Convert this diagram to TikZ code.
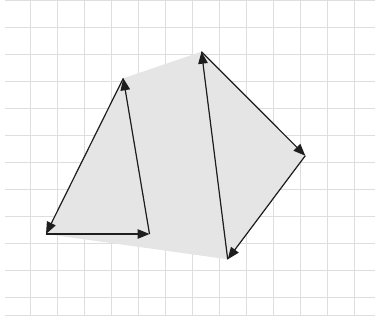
\documentclass[tikz,border=0pt]{standalone}
\usetikzlibrary{arrows.meta}

\begin{document}
\begin{tikzpicture}[
    x=1pt, y=-1pt,
    >={Triangle[length=12pt, width=9.5pt]},
    gridline/.style={draw=black!13, line width=0.8pt},
    baseline/.style={draw=black!13, line width=1.8pt},
    hullfill/.style={fill=black!10},
    edge/.style={->, draw=cInk, fill=cInk, line width=1.2pt},
]

\definecolor{cInk}{HTML}{1E1E1E}

\useasboundingbox (0,0) rectangle (375,322);

% grid
\foreach \gy in {0,27,...,297}
    \draw[gridline] (5,\gy) -- (375,\gy);
\foreach \gx in {30,57,...,354}
    \draw[gridline] (\gx,0) -- (\gx,315);
\draw[baseline] (5,315.5) -- (375,315.5);

% points
\coordinate (pa) at (46,234);
\coordinate (pb) at (149.5,234);
\coordinate (pc) at (123.3,78.3);
\coordinate (pd) at (201.5,51.7);
\coordinate (pe) at (305.3,155.7);
\coordinate (pf) at (227.7,259.3);

% hull
\fill[hullfill] (pa) -- (pc) -- (pd) -- (pe) -- (pf) -- cycle;

% first triangle
\draw[edge] (pa) -- (pb);
\draw[edge] (pb) -- (pc);
\draw[edge] (pc) -- (pa);

% second triangle
\draw[edge] (pd) -- (pe);
\draw[edge] (pe) -- (pf);
\draw[edge] (pf) -- (pd);

\end{tikzpicture}
\end{document}
